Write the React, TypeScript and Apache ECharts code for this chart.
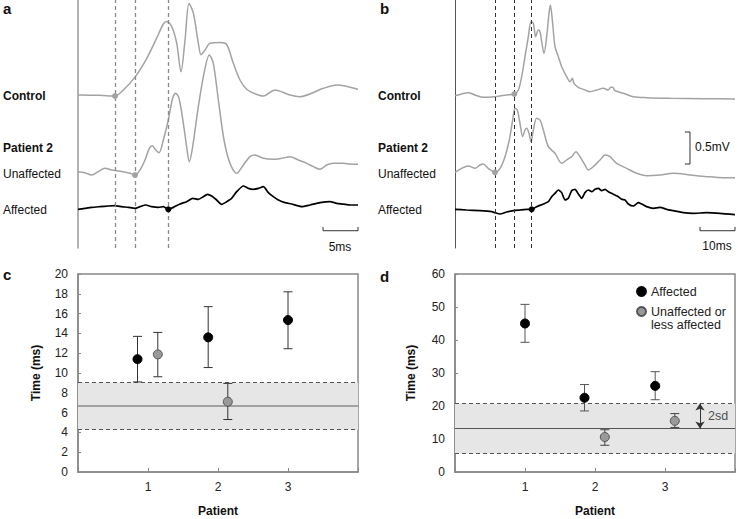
import React, { useEffect, useRef } from 'react';
import * as echarts from 'echarts';

// ---------- Panel a (time in ms, amplitude in mV incl. trace offset) ----------
const aControl = [
  [0, 2.39], [3.1, 2.385], [5.29, 2.375], [6.48, 2.47], [8.14, 2.67], [9.81, 2.96], [11.24, 3.28],
  [12.19, 3.5], [12.67, 3.54], [13.38, 3.46], [14.1, 3.2], [14.71, 2.755], [15.29, 3.25], [15.86, 3.82],
  [16.48, 3.67], [17.19, 3.2], [17.57, 3.02], [18.14, 3.09], [18.86, 3.2], [20.29, 3.21], [21.24, 3.18],
  [22.19, 2.885], [23.14, 2.625], [24.1, 2.48], [25.29, 2.41], [26.48, 2.375], [28.14, 2.47], [30.29, 2.39],
  [31.71, 2.365], [35.05, 2.495], [36.95, 2.547], [40, 2.48],
];
const aUnaffected = [
  [0, 1.193], [1.0, 1.177], [1.95, 1.14], [2.9, 1.193], [3.86, 1.245], [4.81, 1.219], [5.52, 1.208],
  [6.48, 1.193], [7.43, 1.167], [8.14, 1.14], [8.86, 1.219], [9.57, 1.375], [10.19, 1.557], [10.62, 1.599],
  [11.1, 1.531], [11.57, 1.49], [12.19, 1.6875], [12.9, 2.0], [13.52, 2.339], [13.95, 2.417], [14.43, 2.339],
  [15.05, 1.948], [15.52, 1.583], [15.9, 1.349], [16.38, 1.583], [17.19, 2.208], [18.0, 2.729], [18.76, 3.016],
  [19.33, 2.885], [20.05, 2.3125], [20.86, 1.6875], [21.71, 1.323], [22.67, 1.167], [23.62, 1.297],
  [24.57, 1.427], [25.29, 1.453], [26.48, 1.401], [27.9, 1.385], [29.1, 1.401], [30.29, 1.427], [31.48, 1.375],
  [32.67, 1.323], [33.62, 1.271], [34.57, 1.229], [35.52, 1.297], [36.48, 1.323], [37.9, 1.323], [38.86, 1.3125],
  [40, 1.307],
];
const aAffected = [
  [0, 0.604], [1.0, 0.62], [1.95, 0.635], [3.14, 0.646], [4.33, 0.656], [5.29, 0.661], [6.24, 0.646],
  [7.19, 0.635], [8.14, 0.62], [8.86, 0.646], [9.67, 0.672], [10.52, 0.646], [11.48, 0.635], [12.19, 0.646],
  [12.9, 0.604], [13.62, 0.635], [14.57, 0.6875], [15.52, 0.724], [16.38, 0.776], [17.19, 0.76], [17.9, 0.802],
  [18.48, 0.839], [19.1, 0.8125], [19.81, 0.75], [20.52, 0.682], [21.24, 0.724], [21.95, 0.776], [22.67, 0.88],
  [23.62, 0.969], [24.33, 0.932], [25.05, 0.917], [25.76, 0.932], [26.48, 0.958], [27.19, 0.865], [27.9, 0.802],
  [28.62, 0.75], [29.57, 0.708], [30.52, 0.687], [31.95, 0.646], [33.14, 0.672], [34.57, 0.708], [36.0, 0.724],
  [36.95, 0.698], [37.9, 0.687], [38.86, 0.672], [40, 0.672],
];
const aOnsetT = [5.29, 8.14, 12.9];
const aOnsetV = [2.375, 1.14, 0.604];

// ---------- Panel b ----------
const bControl = [
  [0, 2.38], [1.9, 2.406], [3.81, 2.427], [5.71, 2.39], [8.1, 2.354], [11.43, 2.365], [14.76, 2.39],
  [16.95, 2.406], [18.1, 2.469], [19.05, 2.677], [20.0, 2.99], [20.95, 3.302], [21.71, 3.536], [22.38, 3.51],
  [23.05, 3.302], [23.81, 3.406], [24.29, 3.38], [24.76, 3.224], [25.43, 3.042], [26.19, 3.302], [26.86, 3.667],
  [27.24, 3.797], [27.81, 3.5625], [28.57, 3.146], [29.52, 2.99], [30.48, 2.833], [31.9, 2.677], [32.86, 2.599],
  [33.52, 2.651], [34.0, 2.573], [35.24, 2.51], [36.67, 2.479], [38.57, 2.443], [40.48, 2.469], [42.38, 2.495],
  [43.81, 2.469], [44.48, 2.51], [45.05, 2.51], [45.71, 2.458], [48.1, 2.417], [50.95, 2.365], [54.76, 2.349],
  [61.43, 2.339], [70.95, 2.333], [80, 2.328],
];
const bUnaffected = [
  [0, 1.182], [1.9, 1.245], [3.81, 1.281], [5.71, 1.245], [7.14, 1.297], [8.1, 1.3125], [9.52, 1.245],
  [11.43, 1.182], [12.86, 1.245], [14.29, 1.427], [15.52, 1.6875], [16.48, 2.0], [17.14, 2.182], [17.81, 2.156],
  [18.57, 1.948], [19.33, 1.74], [20.0, 1.844], [20.48, 1.87], [21.14, 1.792], [21.71, 1.661], [22.38, 1.844],
  [23.33, 2.026], [24.29, 2.0], [25.24, 1.844], [26.67, 1.583], [28.57, 1.479], [30.48, 1.323], [31.9, 1.375],
  [33.33, 1.427], [34.57, 1.505], [35.71, 1.427], [37.14, 1.297], [38.1, 1.219], [39.52, 1.271], [41.43, 1.375],
  [42.86, 1.453], [44.29, 1.427], [46.19, 1.323], [49.05, 1.245], [51.9, 1.167], [54.76, 1.13], [58.57, 1.141],
  [62.38, 1.167], [67.14, 1.141], [71.9, 1.115], [76.67, 1.099], [80, 1.099],
];
const bAffected = [
  [0, 0.604], [3.33, 0.594], [7.14, 0.583], [10.48, 0.568], [11.43, 0.552], [12.86, 0.531], [14.76, 0.5625],
  [16.67, 0.583], [18.57, 0.594], [20.48, 0.604], [21.9, 0.604], [23.33, 0.646], [25.24, 0.6875], [26.67, 0.724],
  [27.62, 0.802], [28.57, 0.854], [29.52, 0.906], [30.48, 0.865], [31.43, 0.75], [32.38, 0.776], [33.33, 0.896],
  [34.29, 0.917], [35.24, 0.844], [36.19, 0.776], [37.14, 0.865], [38.1, 0.906], [39.05, 0.88], [40.0, 0.917],
  [40.95, 0.932], [41.9, 0.896], [42.86, 0.917], [43.81, 0.88], [44.76, 0.854], [45.71, 0.828], [46.67, 0.802],
  [47.62, 0.76], [48.57, 0.75], [49.52, 0.6875], [50.95, 0.656], [52.38, 0.708], [53.33, 0.6875], [54.76, 0.646],
  [56.67, 0.62], [58.57, 0.635], [60.48, 0.604], [62.38, 0.583], [65.24, 0.552], [68.1, 0.542], [71.9, 0.552],
  [75.71, 0.542], [80, 0.521],
];
const bOnsetT = [16.95, 11.43, 21.9];
const bOnsetV = [2.406, 1.182, 0.604];

// scale bars (ms / mV)
const aScaleMs = [35, 40];
const bScaleMs = [70, 80];
const bScaleMv = [1.3125, 1.8125];

// ---------- Panel c (time, ms) ----------
const patients = [1, 2, 3];
const cAffX = [0.85, 1.86, 3.0];
const cAffY = [11.4, 13.6, 15.35];
const cAffLo = [9.1, 10.55, 12.45];
const cAffHi = [13.7, 16.7, 18.2];
const cUnaX = [1.14, 2.14];
const cUnaY = [11.88, 7.1];
const cUnaLo = [9.62, 5.3];
const cUnaHi = [14.1, 8.95];
const cMean = 6.66;
const cUpper = 9.04;
const cLower = 4.28;

// ---------- Panel d (time, ms) ----------
const dAffX = [1.0, 1.85, 2.86];
const dAffY = [45.0, 22.5, 26.1];
const dAffLo = [39.3, 18.5, 21.9];
const dAffHi = [50.8, 26.5, 30.4];
const dUnaX = [2.14, 3.14];
const dUnaY = [10.6, 15.5];
const dUnaLo = [8.1, 13.5];
const dUnaHi = [12.8, 17.7];
const dMean = 13.15;
const dUpper = 20.74;
const dLower = 5.57;
const dSdX = 3.5;

const FONT = '"Liberation Sans", Arial, Helvetica, sans-serif';
const TRACE_GRAY = '#a3a3a3';
const AFF_NAME = 'Affected';
const UNA_NAME = 'Unaffected or\nless affected';

function txt(text: string, x: number, y: number, size: number, weight = 'normal', align = 'left') {
  return {
    type: 'text',
    x,
    y,
    silent: true,
    style: {
      text,
      font: `${weight} ${size}px ${FONT}`,
      fill: '#111',
      align,
      verticalAlign: 'middle',
      textAlign: align,
      textVerticalAlign: 'middle',
    },
  };
}

function errorBars(ax: number, x: number[], lo: number[], hi: number[], color: string) {
  return {
    type: 'custom',
    xAxisIndex: ax,
    yAxisIndex: ax,
    z: 4,
    silent: true,
    data: x.map((v, i) => [v, lo[i], hi[i]]),
    encode: { x: 0, y: [1, 2] },
    renderItem: (_p: any, api: any) => {
      const xv = api.value(0);
      const p1 = api.coord([xv, api.value(1)]);
      const p2 = api.coord([xv, api.value(2)]);
      const hw = 4.5;
      const st = { stroke: color, lineWidth: 1 };
      return {
        type: 'group',
        children: [
          { type: 'line', shape: { x1: p1[0], y1: p1[1], x2: p2[0], y2: p2[1] }, style: st },
          { type: 'line', shape: { x1: p1[0] - hw, y1: p1[1], x2: p1[0] + hw, y2: p1[1] }, style: st },
          { type: 'line', shape: { x1: p2[0] - hw, y1: p2[1], x2: p2[0] + hw, y2: p2[1] }, style: st },
        ],
      };
    },
  };
}

function trace(ax: number, data: number[][], color: string, smooth: number, width = 1.5) {
  return {
    type: 'line',
    xAxisIndex: ax,
    yAxisIndex: ax,
    data,
    showSymbol: false,
    smooth,
    silent: true,
    lineStyle: { color, width },
    z: 3,
  };
}

function onsets(ax: number, ts: number[], vs: number[], colors: string[], dashColor: string, dashWidth: number) {
  return {
    type: 'scatter',
    xAxisIndex: ax,
    yAxisIndex: ax,
    symbolSize: 6,
    silent: true,
    z: 5,
    data: ts.map((t, i) => ({ value: [t, vs[i]], itemStyle: { color: colors[i], opacity: 1 } })),
    markLine: {
      silent: true,
      symbol: ['none', 'none'],
      label: { show: false },
      lineStyle: { type: [4, 3], color: dashColor, width: dashWidth },
      data: ts.map((t) => ({ xAxis: t })),
    },
  };
}

function polyline(ax: number, data: number[][]) {
  return {
    type: 'line',
    xAxisIndex: ax,
    yAxisIndex: ax,
    data,
    showSymbol: false,
    silent: true,
    lineStyle: { color: '#333', width: 1 },
  };
}

function bandMarkers(mean: number, upper: number, lower: number, meanColor: string, meanWidth: number) {
  return {
    markArea: {
      silent: true,
      itemStyle: { color: '#e6e6e6' },
      data: [[{ yAxis: lower }, { yAxis: upper }]],
    },
    markLine: {
      silent: true,
      z: 1,
      symbol: ['none', 'none'],
      label: { show: false },
      data: [
        { yAxis: mean, lineStyle: { type: 'solid', color: meanColor, width: meanWidth } },
        { yAxis: upper, lineStyle: { type: [4, 3], color: '#555', width: 1 } },
        { yAxis: lower, lineStyle: { type: [4, 3], color: '#555', width: 1 } },
      ],
    },
  };
}

function points(ax: number, name: string, x: number[], y: number[], fill: string, extra: any = {}) {
  return {
    type: 'scatter',
    name,
    xAxisIndex: ax,
    yAxisIndex: ax,
    symbolSize: 9,
    z: 6,
    silent: true,
    itemStyle: { color: fill, opacity: 1, borderColor: fill === '#000' ? '#000' : '#555', borderWidth: 1 },
    data: x.map((v, i) => [v, y[i]]),
    ...extra,
  };
}

const axisTxt = { color: '#222', fontSize: 12, fontFamily: FONT };
const nameTxt = { color: '#111', fontSize: 12, fontWeight: 'bold', fontFamily: FONT };

function statX(gi: number) {
  return {
    type: 'value',
    gridIndex: gi,
    min: 0,
    max: 4,
    interval: 1,
    name: 'Patient',
    nameLocation: 'middle',
    nameGap: 33,
    nameTextStyle: nameTxt,
    axisLine: { show: true, lineStyle: { color: '#888', width: 1.5 } },
    axisTick: { show: true, inside: true, length: 4, lineStyle: { color: '#888' } },
    axisLabel: {
      ...axisTxt,
      margin: 9,
      formatter: (v: number) => (patients.includes(v) ? String(v) : ''),
    },
    splitLine: { show: false },
  };
}

function statY(gi: number, max: number, interval: number, gap: number) {
  return {
    type: 'value',
    gridIndex: gi,
    min: 0,
    max,
    interval,
    name: 'Time (ms)',
    nameLocation: 'middle',
    nameRotate: 90,
    nameGap: gap,
    nameTextStyle: nameTxt,
    axisLine: { show: true, lineStyle: { color: '#888', width: 1.5 } },
    axisTick: { show: true, inside: true, length: 3, lineStyle: { color: '#888' } },
    axisLabel: { ...axisTxt, margin: 10 },
    splitLine: { show: false },
  };
}

function traceX(gi: number, max: number) {
  return { type: 'value', gridIndex: gi, min: 0, max, show: false };
}

function traceY(gi: number, color: string, width: number) {
  return {
    type: 'value',
    gridIndex: gi,
    min: 0,
    max: 3.875,
    axisLine: { show: true, lineStyle: { color, width } },
    axisTick: { show: false },
    axisLabel: { show: false },
    splitLine: { show: false },
  };
}

export default function App() {
  const ref = useRef<HTMLDivElement>(null);
  useEffect(() => {
    if (!ref.current) return;
    const chart = echarts.init(ref.current, null, { renderer: 'svg' });
    const option: any = {
      animation: false,
      backgroundColor: '#fff',
      textStyle: { fontFamily: FONT },
      grid: [
        { left: 78, top: 0, width: 280, height: 248 },
        { left: 455, top: 0, width: 280, height: 248 },
        { left: 78, top: 274, width: 280, height: 198, show: true, borderColor: '#888', borderWidth: 1.5 },
        { left: 455, top: 274, width: 280, height: 198, show: true, borderColor: '#888', borderWidth: 1.5 },
      ],
      xAxis: [traceX(0, 40), traceX(1, 80), statX(2), statX(3)],
      yAxis: [
        traceY(0, '#999', 1.5),
        traceY(1, '#555', 1),
        statY(2, 20, 2, 36),
        statY(3, 60, 10, 38),
      ],
      legend: {
        orient: 'vertical',
        left: 631,
        top: 280,
        icon: 'circle',
        itemWidth: 9,
        itemHeight: 9,
        itemGap: -6,
        selectedMode: false,
        textStyle: { ...axisTxt, fontSize: 12.5, lineHeight: 13 },
        // a blank first line keeps the icon level with "Unaffected or"
        formatter: (name: string) => (name === UNA_NAME ? '\u00a0\n' + name : name),
        data: [{ name: AFF_NAME }, { name: UNA_NAME }],
      },
      graphic: [
        txt('a', 3, 8, 15, 'bold'),
        txt('b', 380, 8, 15, 'bold'),
        txt('c', 3, 274.5, 15, 'bold'),
        txt('d', 380, 276.5, 15, 'bold'),
        txt('Control', 3, 96, 12, 'bold'),
        txt('Patient 2', 3, 148, 12, 'bold'),
        txt('Unaffected', 3, 173.5, 12),
        txt('Affected', 3, 210, 12),
        txt('Control', 378, 96, 12, 'bold'),
        txt('Patient 2', 378, 148, 12, 'bold'),
        txt('Unaffected', 378, 173.5, 12),
        txt('Affected', 378, 210, 12),
        txt('5ms', 340, 246.5, 12, 'normal', 'center'),
        txt('10ms', 717, 245.5, 12, 'normal', 'center'),
        txt('0.5mV', 695, 147, 12),
      ],
      series: [
        // panel a
        trace(0, aControl, TRACE_GRAY, 0.3),
        trace(0, aUnaffected, TRACE_GRAY, 0.3),
        trace(0, aAffected, '#000', 0.2, 1.7),
        onsets(0, aOnsetT, aOnsetV, [TRACE_GRAY, TRACE_GRAY, '#000'], '#8a8a8a', 1.3),
        polyline(0, [
          [aScaleMs[0], 0.33], [aScaleMs[0], 0.27], [aScaleMs[1], 0.27], [aScaleMs[1], 0.33],
        ]),
        // panel b
        trace(1, bControl, TRACE_GRAY, 0.3),
        trace(1, bUnaffected, TRACE_GRAY, 0.3),
        trace(1, bAffected, '#000', 0.2, 1.7),
        onsets(1, bOnsetT, bOnsetV, [TRACE_GRAY, TRACE_GRAY, '#000'], '#333', 1),
        polyline(1, [
          [bScaleMs[0], 0.33], [bScaleMs[0], 0.27], [bScaleMs[1], 0.27], [bScaleMs[1], 0.33],
        ]),
        polyline(1, [
          [65.7, bScaleMv[1]], [67.14, bScaleMv[1]], [67.14, bScaleMv[0]], [65.7, bScaleMv[0]],
        ]),
        // panel c
        errorBars(2, cAffX, cAffLo, cAffHi, '#333'),
        errorBars(2, cUnaX, cUnaLo, cUnaHi, '#333'),
        points(2, AFF_NAME, cAffX, cAffY, '#000', bandMarkers(cMean, cUpper, cLower, '#8a8a8a', 1.5)),
        points(2, UNA_NAME, cUnaX, cUnaY, '#999'),
        // panel d
        errorBars(3, dAffX, dAffLo, dAffHi, '#555'),
        errorBars(3, dUnaX, dUnaLo, dUnaHi, '#444'),
        points(3, AFF_NAME, dAffX, dAffY, '#000', bandMarkers(dMean, dUpper, dLower, '#555', 1)),
        points(3, UNA_NAME, dUnaX, dUnaY, '#999'),
        {
          type: 'scatter',
          xAxisIndex: 3,
          yAxisIndex: 3,
          symbolSize: 0,
          silent: true,
          data: [[dSdX, (dUpper + dMean) / 2]],
          label: { show: true, position: 'right', distance: 8, formatter: '2sd', ...axisTxt, fontSize: 12.5 },
          markLine: {
            silent: true,
            symbol: ['arrow', 'arrow'],
            symbolSize: 7,
            label: { show: false },
            lineStyle: { type: 'solid', color: '#333', width: 1 },
            data: [[{ coord: [dSdX, dUpper] }, { coord: [dSdX, dMean] }]],
          },
        },
      ],
    };
    chart.setOption(option);
    return () => chart.dispose();
  }, []);
  return (
    <div
      ref={ref}
      style={{ position: 'absolute', left: 0, top: 0, width: 738, height: 519, background: '#fff' }}
    />
  );
}
